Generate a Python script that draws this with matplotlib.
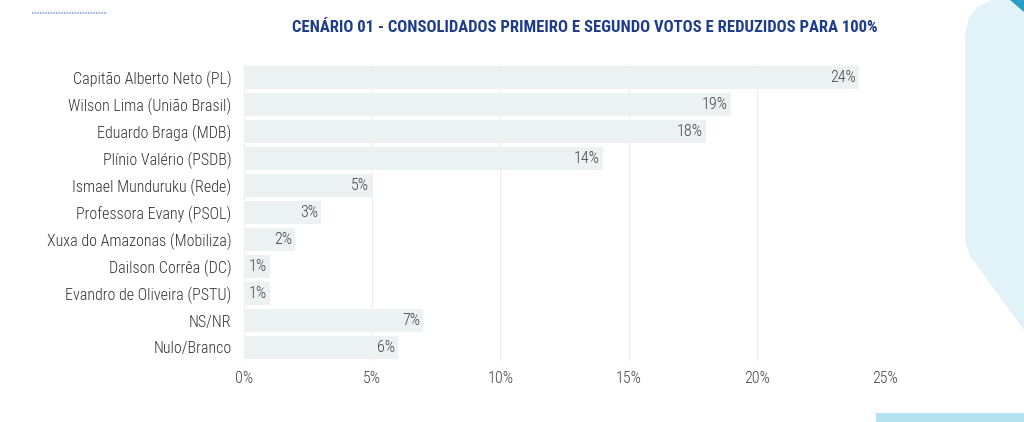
import matplotlib
matplotlib.use("Agg")
import matplotlib.pyplot as plt
from matplotlib.patches import Polygon, Rectangle

candidatos = [
    "Capitão Alberto Neto (PL)",
    "Wilson Lima (União Brasil)",
    "Eduardo Braga (MDB)",
    "Plínio Valério (PSDB)",
    "Ismael Munduruku (Rede)",
    "Professora Evany (PSOL)",
    "Xuxa do Amazonas (Mobiliza)",
    "Dailson Corrêa (DC)",
    "Evandro de Oliveira (PSTU)",
    "NS/NR",
    "Nulo/Branco",
]
votos = [24, 19, 18, 14, 5, 3, 2, 1, 1, 7, 6]
ticks = [0, 5, 10, 15, 20, 25]

FONT = ["Roboto Condensed", "DejaVu Sans"]
W, H = 1024, 422


def px(x, y):
    # pixel coords (y from top) -> figure fraction
    return x / W, 1 - y / H


fig = plt.figure(figsize=(W / 100, H / 100), dpi=100)

# decoracoes
fig.patches.append(Polygon([px(1024, 0), px(992, 0), px(978, 6), px(969, 18), px(965, 34),
                            px(965, 240), px(970, 256), px(1024, 330)],
                           closed=True, transform=fig.transFigure, facecolor="#E1F2F9",
                           edgecolor="none", zorder=0))
fig.patches.append(Polygon([px(1010, 0), px(1024, 0), px(1024, 12)], closed=True,
                           transform=fig.transFigure, facecolor="#2A9FC6", edgecolor="none", zorder=1))
fig.patches.append(Rectangle(px(876, 422), (W - 876) / W, 9 / H, transform=fig.transFigure,
                             facecolor="#B5E2EE", edgecolor="none", zorder=0))
fig.lines.append(plt.Line2D([32 / W, 107 / W], [1 - 13 / H] * 2, transform=fig.transFigure,
                            color="#8FA8D8", lw=1.2, ls=(0, (1, 0.6))))

ax = fig.add_axes([244 / W, 1 - 361 / H, (885 - 244) / W, (361 - 64) / H])
ax.set_facecolor("none")
y = list(range(len(candidatos)))
ax.barh(y, votos, height=0.86, color="#ECF1F2", zorder=2)
for yi, v in zip(y, votos):
    ax.text(v - 0.12, yi, f"{v}%", ha="right", va="center", fontsize=11.5,
            family=FONT, weight="light", color="#444444", zorder=3)

ax.set_xlim(0, 25)
ax.set_ylim(len(candidatos) - 0.5, -0.5)
ax.set_yticks(y)
ax.set_yticklabels(candidatos, family=FONT, fontsize=11.5, weight="light", color="#333333")
ax.set_xticks(ticks)
ax.set_xticklabels([f"{t}%" for t in ticks], family=FONT, fontsize=11.5, weight="light",
                   color="#444444")
ax.tick_params(length=0)
ax.tick_params(axis="x", pad=7)
ax.tick_params(axis="y", pad=9)
ax.grid(axis="x", color="#EDEDED", lw=0.8, zorder=0)
for s in ax.spines.values():
    s.set_visible(False)

fig.text(585 / W, 1 - 27 / H, "CENÁRIO 01 - CONSOLIDADOS PRIMEIRO E SEGUNDO VOTOS E REDUZIDOS PARA 100%",
         ha="center", va="center", family=FONT, weight="bold", fontsize=12, color="#1E3C8C")

fig.savefig("out.png", dpi=100)
